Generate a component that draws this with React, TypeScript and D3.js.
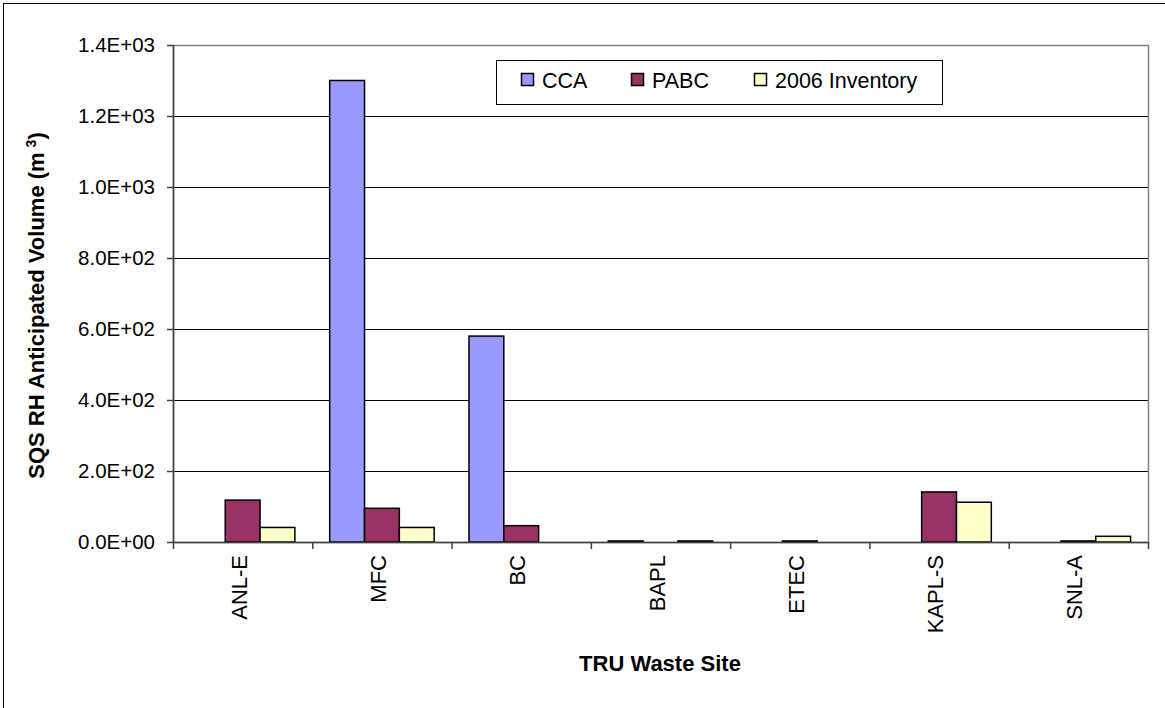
import * as d3 from 'd3';

const sites = ['ANL-E', 'MFC', 'BC', 'BAPL', 'ETEC', 'KAPL-S', 'SNL-A'];
const seriesNames = ['CCA', 'PABC', '2006 Inventory'];
const ccaValues = [0, 1300, 580, 3, 0, 0, 0];
const pabcValues = [118, 95, 46, 0, 3, 141, 3];
const inventoryValues = [41, 41, 0, 3, 0, 112, 16];
const yTicks = [0, 200, 400, 600, 800, 1000, 1200, 1400];
const colors = ['#9999FF', '#993366', '#FFFFCC'];

const FONT = '"Liberation Sans", Arial, sans-serif';

const fmt = (v: number) => {
  const [m, e] = v.toExponential(1).split('e');
  const sign = e[0] === '-' ? '-' : '+';
  const digits = e.replace(/[+-]/, '').padStart(2, '0');
  return `${m}E${sign}${digits}`;
};

export default function App() {
  const width = 1165;
  const height = 708;
  const plot = { left: 173, right: 1148, top: 45, bottom: 542 };

  const x = d3.scaleBand<string>().domain(sites).range([plot.left, plot.right]).paddingInner(0).paddingOuter(0);
  const inner = d3
    .scaleBand<string>()
    .domain(seriesNames)
    .range([0, x.bandwidth()])
    .paddingInner(0)
    .paddingOuter(0.5);
  const y = d3.scaleLinear().domain([0, 1400]).range([plot.bottom, plot.top]);

  const series = [ccaValues, pabcValues, inventoryValues];

  return (
    <svg
      width={width}
      height={height}
      style={{ position: 'absolute', left: 0, top: 0, background: '#fff' }}
      fontFamily={FONT}
    >
      <rect x={3.5} y={3.5} width={1175} height={720} fill="#fff" stroke="#000" strokeWidth={1} />

      {/* gridlines */}
      {yTicks.slice(1, -1).map((t) => (
        <line key={t} x1={plot.left} x2={plot.right} y1={y(t) + 0.5} y2={y(t) + 0.5} stroke="#000" strokeWidth={1} />
      ))}
      {/* plot frame */}
      <rect
        x={plot.left + 0.5}
        y={plot.top + 0.5}
        width={plot.right - plot.left}
        height={plot.bottom - plot.top}
        fill="none"
        stroke="#808080"
        strokeWidth={1.5}
      />

      {/* bars */}
      {series.map((vals, si) =>
        vals.map((v, i) =>
          v > 0 ? (
            <rect
              key={`${si}-${i}`}
              x={(x(sites[i]) ?? 0) + (inner(seriesNames[si]) ?? 0)}
              y={y(v)}
              width={inner.bandwidth()}
              height={plot.bottom - y(v)}
              fill={colors[si]}
              stroke="#000"
              strokeWidth={1.5}
            />
          ) : null
        )
      )}

      {/* y axis */}
      <line x1={plot.left + 0.5} x2={plot.left + 0.5} y1={plot.top} y2={plot.bottom} stroke="#404040" strokeWidth={1.5} />
      {yTicks.map((t) => (
        <g key={t}>
          <line x1={plot.left - 6} x2={plot.left} y1={y(t) + 0.5} y2={y(t) + 0.5} stroke="#404040" strokeWidth={1.5} />
          <text x={plot.left - 18} y={y(t) + 7} textAnchor="end" fontSize={20.5} fill="#000">
            {fmt(t)}
          </text>
        </g>
      ))}

      {/* x axis */}
      <line x1={plot.left} x2={plot.right} y1={plot.bottom + 0.5} y2={plot.bottom + 0.5} stroke="#404040" strokeWidth={1.5} />
      {[...sites.map((s) => x(s) ?? 0), plot.right].map((px, i) => (
        <line key={i} x1={px + 0.5} x2={px + 0.5} y1={plot.bottom} y2={plot.bottom + 7} stroke="#404040" strokeWidth={1.5} />
      ))}
      {sites.map((s) => {
        const cx = (x(s) ?? 0) + x.bandwidth() / 2 + 4;
        const cy = plot.bottom + 13;
        return (
          <text key={s} transform={`translate(${cx},${cy}) rotate(-90)`} textAnchor="end" fontSize={22} fill="#000">
            {s}
          </text>
        );
      })}

      {/* axis titles */}
      <text x={660} y={671} textAnchor="middle" fontSize={22} fontWeight="bold" fill="#000">
        TRU Waste Site
      </text>
      <text
        transform={`translate(44,${(plot.top + plot.bottom) / 2 + 12}) rotate(-90)`}
        textAnchor="middle"
        fontSize={22}
        fontWeight="bold"
        fill="#000"
      >
        SQS RH Anticipated Volume (m
        <tspan dx={5} dy={-8} fontSize={14}>3</tspan>
        <tspan dy={8}>)</tspan>
      </text>

      {/* legend */}
      <rect x={496.5} y={60.5} width={446} height={44} fill="#fff" stroke="#000" strokeWidth={1} />
      {seriesNames.map((name, i) => {
        const lx = [521, 631, 754][i];
        return (
          <g key={name}>
            <rect x={lx + 0.5} y={73.5} width={12} height={12} fill={colors[i]} stroke="#000" strokeWidth={1.5} />
            <text x={lx + 21} y={88} fontSize={21.5} fill="#000">
              {name}
            </text>
          </g>
        );
      })}
    </svg>
  );
}
